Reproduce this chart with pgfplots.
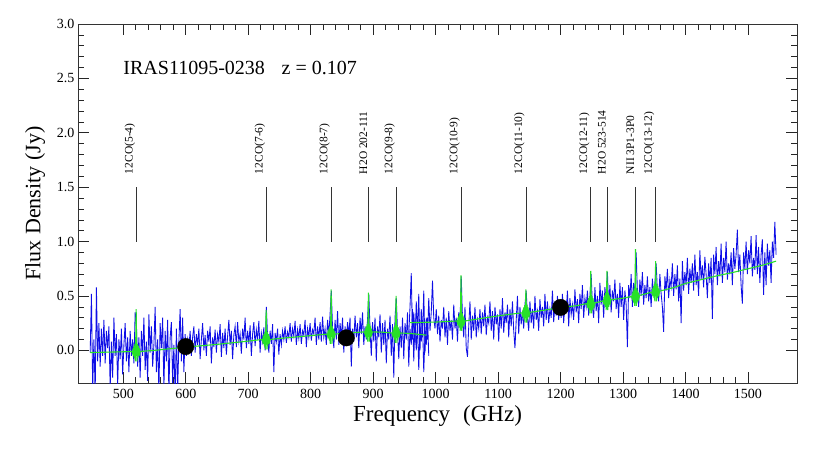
\documentclass[border=0pt]{standalone}
\usepackage{fontspec}
\setmainfont{Liberation Serif}
\usepackage{pgfplots}
\usepackage{pgfplotstable}
\pgfplotsset{compat=1.18}
\definecolor{specblue}{RGB}{15,15,230}
\definecolor{fitgreen}{RGB}{40,225,40}
\pgfplotstableread{
x y
447 -0.02
449 0.52
451 -0.35
453 0.10
455 -0.40
457 0.58
459 -0.10
461 0.25
463 -0.15
465 0.20
467 -0.05
469 0.28
471 -0.12
473 0.18
475 0.02
477 0.22
479 -0.35
481 0.08
483 -0.25
485 0.30
487 -0.05
489 0.15
491 -0.32
493 0.10
495 -0.08
497 0.20
499 -0.22
501 0.05
503 0.25
505 -0.10
507 0.12
509 -0.20
511 0.18
513 -0.05
515 0.10
517 -0.12
519 0.35
521 0.25
523 -0.15
525 0.12
527 -0.25
529 0.18
531 -0.05
533 0.30
535 -0.18
537 0.08
539 -0.28
541 0.33
543 -0.02
545 0.22
547 -0.15
549 0.05
551 0.40
553 -0.20
555 0.10
557 -0.38
559 0.25
561 0.02
563 0.30
565 -0.35
567 0.18
569 -0.10
571 0.28
573 -0.40
575 0.12
577 0.26
579 -0.30
581 0.05
583 -0.45
585 0.20
587 -0.38
589 0.08
591 0.38
593 -0.10
595 0.30
597 -0.20
599 0.15
601 -0.05
603 0.10
605 0.02
607 0.18
609 -0.05
611 0.12
613 0.22
615 -0.02
617 0.15
619 0.05
621 0.20
623 -0.08
625 0.10
627 0.25
629 0.00
631 0.14
633 -0.05
635 0.18
637 0.08
639 0.22
641 -0.12
643 0.12
645 0.03
647 0.19
649 -0.02
651 0.15
653 0.08
655 0.24
657 -0.06
659 0.16
661 0.02
663 0.20
665 -0.04
667 0.13
669 0.28
671 0.05
673 0.18
675 -0.08
677 0.14
679 0.22
681 0.03
683 0.26
685 0.08
687 0.15
689 -0.03
691 0.20
693 0.10
695 0.30
697 0.02
699 0.18
701 0.06
703 0.23
705 -0.05
707 0.15
709 0.26
711 0.04
713 0.19
715 0.10
717 0.27
719 -0.02
721 0.16
723 0.08
725 0.21
727 0.00
729 0.40
731 0.12
733 -0.02
735 0.18
737 0.06
739 0.24
741 -0.20
743 0.16
745 0.08
747 0.20
749 -0.04
751 0.15
753 0.05
755 0.18
757 0.10
759 0.22
761 0.07
763 0.17
765 0.12
767 0.25
769 0.08
771 0.20
773 0.13
775 0.27
777 0.05
779 0.19
781 0.11
783 0.24
785 0.06
787 0.18
789 0.14
791 0.28
793 0.03
795 0.20
797 0.12
799 0.25
801 0.09
803 0.19
805 0.15
807 0.30
809 0.05
811 0.22
813 0.10
815 0.26
817 0.08
819 0.31
821 0.12
823 0.20
825 0.05
827 0.28
829 0.14
831 0.33
833 0.55
835 0.20
837 0.02
839 0.28
841 0.10
843 0.36
845 0.05
847 0.25
849 0.12
851 0.30
853 -0.02
855 0.22
857 0.08
859 0.26
861 0.14
863 0.30
865 -0.15
867 0.20
869 0.08
871 0.32
873 0.12
875 0.25
877 0.02
879 0.30
881 0.15
883 0.35
885 0.05
887 0.22
889 0.10
891 0.28
893 0.52
895 0.20
897 -0.05
899 0.26
901 0.08
903 0.30
905 -0.10
907 0.22
909 0.12
911 0.33
913 -0.02
915 0.25
917 0.05
919 0.28
921 -0.12
923 0.20
925 0.10
927 0.32
929 -0.05
931 0.24
933 -0.25
935 0.30
937 0.48
939 0.18
941 -0.08
943 0.22
945 0.02
947 0.30
949 -0.08
951 0.25
953 0.10
955 0.35
957 -0.15
959 0.20
961 0.05
963 0.38
965 -0.10
967 0.30
969 0.00
971 0.25
973 -0.18
975 0.22
977 0.08
979 0.28
981 -0.20
983 0.15
985 0.05
987 0.30
989 -0.05
}\slw
\pgfplotstableread{
x y
957 0.15
959 0.40
961 0.71
963 0.10
965 0.35
967 0.05
969 0.45
971 0.15
973 0.52
975 0.00
977 0.38
979 0.12
981 0.55
983 -0.02
985 0.30
987 0.10
989 0.48
991 0.18
993 0.35
995 0.64
997 0.30
999 0.20
1001 0.38
1003 0.15
1005 0.32
1007 0.08
1009 0.28
1011 0.20
1013 0.40
1015 0.12
1017 0.30
1019 0.05
1021 0.36
1023 0.18
1025 0.28
1027 0.10
1029 0.42
1031 0.20
1033 0.30
1035 0.08
1037 0.35
1039 0.25
1041 0.68
1043 0.30
1045 0.12
1047 0.40
1049 0.02
1051 -0.06
1053 0.22
1055 0.45
1057 0.10
1059 0.32
1061 0.18
1063 0.40
1065 0.12
1067 0.28
1069 0.20
1071 0.38
1073 0.15
1075 0.35
1077 0.22
1079 0.42
1081 0.14
1083 0.30
1085 0.25
1087 0.45
1089 0.18
1091 0.36
1093 0.10
1095 0.40
1097 0.24
1099 0.33
1101 0.08
1103 0.38
1105 0.20
1107 0.48
1109 0.16
1111 0.35
1113 0.25
1115 0.42
1117 0.12
1119 0.38
1121 0.22
1123 0.45
1125 0.18
1127 0.02
1129 0.28
1131 0.50
1133 0.15
1135 0.40
1137 0.24
1139 0.36
1141 0.20
1143 0.42
1145 0.55
1147 0.30
1149 0.18
1151 0.45
1153 0.25
1155 0.38
1157 0.20
1159 0.50
1161 0.28
1163 0.36
1165 0.18
1167 0.47
1169 0.30
1171 0.40
1173 0.22
1175 0.52
1177 0.28
1179 0.45
1181 0.25
1183 0.38
1185 0.30
1187 0.55
1189 0.26
1191 0.42
1193 0.32
1195 0.50
1197 0.28
1199 0.44
1201 0.30
1203 0.52
1205 0.25
1207 0.45
1209 0.35
1211 0.55
1213 0.22
1215 0.48
1217 0.33
1219 0.42
1221 0.28
1223 0.56
1225 0.35
1227 0.47
1229 0.25
1231 0.52
1233 0.38
1235 0.60
1237 0.30
1239 0.48
1241 0.40
1243 0.55
1245 0.32
1247 0.50
1249 0.70
1251 0.40
1253 0.30
1255 0.58
1257 0.36
1259 0.50
1261 0.25
1263 0.62
1265 0.42
1267 0.55
1269 0.30
1271 0.58
1273 0.45
1275 0.72
1277 0.40
1279 0.60
1281 0.35
1283 0.55
1285 0.45
1287 0.65
1289 0.38
1291 0.52
1293 0.30
1295 0.62
1297 0.40
1299 0.58
1301 0.28
1303 0.55
1305 0.42
1307 0.03
1309 0.60
1311 0.48
1313 0.70
1315 0.40
1317 0.62
1319 0.50
1321 0.90
1323 0.55
1325 0.40
1327 0.65
1329 0.50
1331 0.72
1333 0.42
1335 0.60
1337 0.48
1339 0.68
1341 0.45
1343 0.58
1345 0.40
1347 0.66
1349 0.50
1351 0.62
1353 0.80
1355 0.55
1357 0.45
1359 0.70
1361 0.52
1363 0.40
1365 0.17
1367 0.68
1369 0.55
1371 0.75
1373 0.48
1375 0.65
1377 0.58
1379 0.80
1381 0.50
1383 0.70
1385 0.56
1387 0.78
1389 0.45
1391 0.66
1393 0.25
1395 0.82
1397 0.55
1399 0.72
1401 0.60
1403 0.85
1405 0.52
1407 0.75
1409 0.62
1411 0.80
1413 0.55
1415 0.88
1417 0.60
1419 0.72
1421 0.50
1423 0.92
1425 0.65
1427 0.78
1429 0.58
1431 0.86
1433 0.70
1435 0.48
1437 0.80
1439 0.62
1441 0.85
1443 0.29
1445 0.88
1447 0.70
1449 0.95
1451 0.60
1453 0.82
1455 0.68
1457 0.98
1459 0.62
1461 0.85
1463 0.72
1465 1.00
1467 0.65
1469 0.80
1471 0.70
1473 0.90
1475 0.60
1477 0.94
1479 0.75
1481 0.88
1483 1.11
1485 0.72
1487 0.88
1489 0.60
1491 0.43
1493 0.90
1495 0.75
1497 1.00
1499 0.70
1501 0.92
1503 0.80
1505 1.05
1507 0.68
1509 0.85
1511 0.74
1513 1.06
1515 0.70
1517 0.95
1519 0.62
1521 0.88
1523 1.02
1525 0.51
1527 0.90
1529 0.60
1531 0.98
1533 0.78
1535 0.92
1537 0.62
1539 1.00
1541 0.85
1543 1.18
1545 0.88
}\ssw
\pgfplotstableread{
x y
447 -0.02
470 -0.017
500 -0.013
514.1 -0.01
515.1 -0.03
515.8 0.02
516.5 -0.05
517.2 0.04
517.9 -0.07
518.6 0.06
519.3 -0.10
520.0 0.11
520.6 0.38
521.2 0.11
521.9 -0.10
522.6 0.06
523.3 -0.07
524.0 0.04
524.7 -0.05
525.4 0.02
526.1 -0.03
527.1 -0.01
550 0.00
575 0.015
600 0.03
650 0.055
700 0.085
722.2 0.10
723.2 0.08
723.9 0.13
724.6 0.06
725.3 0.15
726.0 0.04
726.7 0.17
727.4 0.01
728.1 0.18
728.7 0.37
729.3 0.18
730.0 0.01
730.7 0.17
731.4 0.04
732.1 0.15
732.8 0.06
733.5 0.13
734.2 0.08
735.2 0.10
760 0.115
790 0.13
826.2 0.15
827.2 0.13
827.9 0.18
828.6 0.11
829.3 0.20
830.0 0.09
830.7 0.22
831.4 0.06
832.1 0.27
832.7 0.56
833.3 0.27
834.0 0.06
834.7 0.22
835.4 0.09
836.1 0.20
836.8 0.11
837.5 0.18
838.2 0.13
839.2 0.15
860 0.16
885.9 0.17
886.9 0.15
887.6 0.20
888.3 0.13
889.0 0.22
889.7 0.11
890.4 0.24
891.1 0.08
891.8 0.28
892.4 0.53
893.0 0.28
893.7 0.08
894.4 0.24
895.1 0.11
895.8 0.22
896.5 0.13
897.2 0.20
897.9 0.15
898.9 0.17
915 0.167
930.2 0.16
931.2 0.14
931.9 0.19
932.6 0.12
933.3 0.21
934.0 0.10
934.7 0.23
935.4 0.07
936.1 0.26
936.7 0.50
937.3 0.26
938.0 0.07
938.7 0.23
939.4 0.10
940.1 0.21
940.8 0.12
941.5 0.19
942.2 0.14
943.2 0.16
960 0.155
985 0.14
}\gslw
\pgfplotstableread{
x y
959 0.255
1000 0.26
1034.1 0.27
1035.1 0.25
1035.8 0.30
1036.5 0.23
1037.2 0.32
1037.9 0.21
1038.6 0.34
1039.3 0.18
1040.0 0.40
1040.6 0.69
1041.2 0.40
1041.9 0.18
1042.6 0.34
1043.3 0.21
1044.0 0.32
1044.7 0.23
1045.4 0.30
1046.1 0.25
1047.1 0.27
1080 0.30
1110 0.325
1138.0 0.345
1139.0 0.325
1139.7 0.375
1140.4 0.305
1141.1 0.395
1141.8 0.285
1142.5 0.415
1143.2 0.255
1143.9 0.41
1144.5 0.56
1145.1 0.41
1145.8 0.255
1146.5 0.415
1147.2 0.285
1147.9 0.395
1148.6 0.305
1149.3 0.375
1150.0 0.325
1151.0 0.35
1175 0.37
1200 0.395
1225 0.41
1241.9 0.43
1242.9 0.41
1243.6 0.46
1244.3 0.39
1245.0 0.48
1245.7 0.37
1246.4 0.50
1247.1 0.34
1247.8 0.52
1248.4 0.73
1249.0 0.52
1249.7 0.34
1250.4 0.50
1251.1 0.37
1251.8 0.48
1252.5 0.39
1253.2 0.46
1253.9 0.41
1254.9 0.435
1267.8 0.455
1268.8 0.44
1269.5 0.49
1270.2 0.42
1270.9 0.51
1271.6 0.40
1272.3 0.53
1273.0 0.37
1273.7 0.54
1274.3 0.73
1274.9 0.54
1275.6 0.37
1276.3 0.53
1277.0 0.40
1277.7 0.51
1278.4 0.42
1279.1 0.49
1279.8 0.44
1280.8 0.465
1300 0.48
1313.4 0.495
1314.4 0.48
1315.1 0.53
1315.8 0.46
1316.5 0.55
1317.2 0.44
1317.9 0.57
1318.6 0.41
1319.3 0.63
1319.9 0.93
1320.5 0.63
1321.2 0.41
1321.9 0.57
1322.6 0.44
1323.3 0.55
1324.0 0.46
1324.7 0.53
1325.4 0.48
1326.4 0.505
1345.7 0.535
1346.7 0.52
1347.4 0.57
1348.1 0.50
1348.8 0.59
1349.5 0.48
1350.2 0.61
1350.9 0.45
1351.6 0.62
1352.2 0.82
1352.8 0.62
1353.5 0.45
1354.2 0.61
1354.9 0.48
1355.6 0.59
1356.3 0.50
1357.0 0.57
1357.7 0.52
1358.7 0.545
1380 0.575
1400 0.615
1425 0.65
1450 0.685
1475 0.715
1500 0.75
1525 0.785
1545 0.82
}\gssw
\begin{document}
\begin{tikzpicture}
\begin{axis}[
  at={(0,0)}, anchor=south west,
  width=719pt, height=359pt, scale only axis,
  xmin=427.5, xmax=1578.5, ymin=-0.3, ymax=3.0,
  xtick={500,600,...,1500}, minor x tick num=4,
  ytick={0,0.5,1.0,1.5,2.0,2.5,3.0}, minor y tick num=4,
  tick align=inside, major tick length=11pt, minor tick length=6pt,
  tick style={black!85, line width=0.6pt},
  axis line style={line width=0.8pt, black!80},
  /pgf/number format/assume math mode=true,
  /pgf/number format/1000 sep={},
  xticklabel style={font=\fontsize{14}{16}\selectfont, yshift=-3pt},
  yticklabel style={font=\fontsize{14}{16}\selectfont,
    /pgf/number format/fixed, /pgf/number format/fixed zerofill,
    /pgf/number format/precision=1},
  xlabel={Frequency\hspace{13pt}(GHz)},
  ylabel={Flux Density (Jy)},
  xlabel style={font=\fontsize{23}{26}\selectfont,
    at={([yshift=-38pt]axis description cs:0.5,0)}, anchor=base},
  ylabel style={font=\fontsize{22}{25}\selectfont,
    at={([xshift=-43pt]axis description cs:0,0.5)}, anchor=center},
]
\addplot[specblue, line width=0.85pt] table[x=x,y=y] {\slw};
\addplot[specblue, line width=0.85pt] table[x=x,y=y] {\ssw};
\addplot[fitgreen, line width=1.1pt] table[x=x,y=y] {\gslw};
\addplot[fitgreen, line width=1.1pt] table[x=x,y=y] {\gssw};
\addplot[only marks, mark=*, mark size=8.2pt, black] coordinates {(600,0.035) (857,0.115) (1200,0.395)};
\addplot[black!80, line width=0.7pt] coordinates {(520.6,1.0) (520.6,1.5)};
\addplot[black!80, line width=0.7pt] coordinates {(728.7,1.0) (728.7,1.5)};
\addplot[black!80, line width=0.7pt] coordinates {(832.7,1.0) (832.7,1.5)};
\addplot[black!80, line width=0.7pt] coordinates {(892.4,1.0) (892.4,1.5)};
\addplot[black!80, line width=0.7pt] coordinates {(936.7,1.0) (936.7,1.5)};
\addplot[black!80, line width=0.7pt] coordinates {(1040.6,1.0) (1040.6,1.5)};
\addplot[black!80, line width=0.7pt] coordinates {(1144.5,1.0) (1144.5,1.5)};
\addplot[black!80, line width=0.7pt] coordinates {(1248.4,1.0) (1248.4,1.5)};
\addplot[black!80, line width=0.7pt] coordinates {(1274.3,1.0) (1274.3,1.5)};
\addplot[black!80, line width=0.7pt] coordinates {(1319.9,1.0) (1319.9,1.5)};
\addplot[black!80, line width=0.7pt] coordinates {(1352.2,1.0) (1352.2,1.5)};
\begin{scope}[every node/.style={rotate=90, anchor=south west, inner sep=1pt, font=\fontsize{11.5}{13}\selectfont}]
\node at (axis cs:520.6,1.61) {12CO(5-4)};
\node at (axis cs:728.7,1.61) {12CO(7-6)};
\node at (axis cs:832.7,1.61) {12CO(8-7)};
\node at (axis cs:892.4,1.61) {H2O 202-111};
\node at (axis cs:936.7,1.61) {12CO(9-8)};
\node at (axis cs:1040.6,1.61) {12CO(10-9)};
\node at (axis cs:1144.5,1.61) {12CO(11-10)};
\node at (axis cs:1248.4,1.61) {12CO(12-11)};
\node at (axis cs:1274.3,1.61) {H2O 523-514};
\node at (axis cs:1319.9,1.61) {NII 3P1-3P0};
\node at (axis cs:1352.2,1.61) {12CO(13-12)};
\end{scope}
\node[anchor=base west, inner sep=0pt, font=\fontsize{20}{24}\selectfont] at (axis cs:500,2.54) {IRAS11095-0238\hspace{16.7pt}z = 0.107};
\end{axis}
\pgfresetboundingbox
\path[use as bounding box] ([shift={(-78pt,-70pt)}]current axis.south west) rectangle ([shift={(24pt,24pt)}]current axis.north east);
\end{tikzpicture}
\end{document}
